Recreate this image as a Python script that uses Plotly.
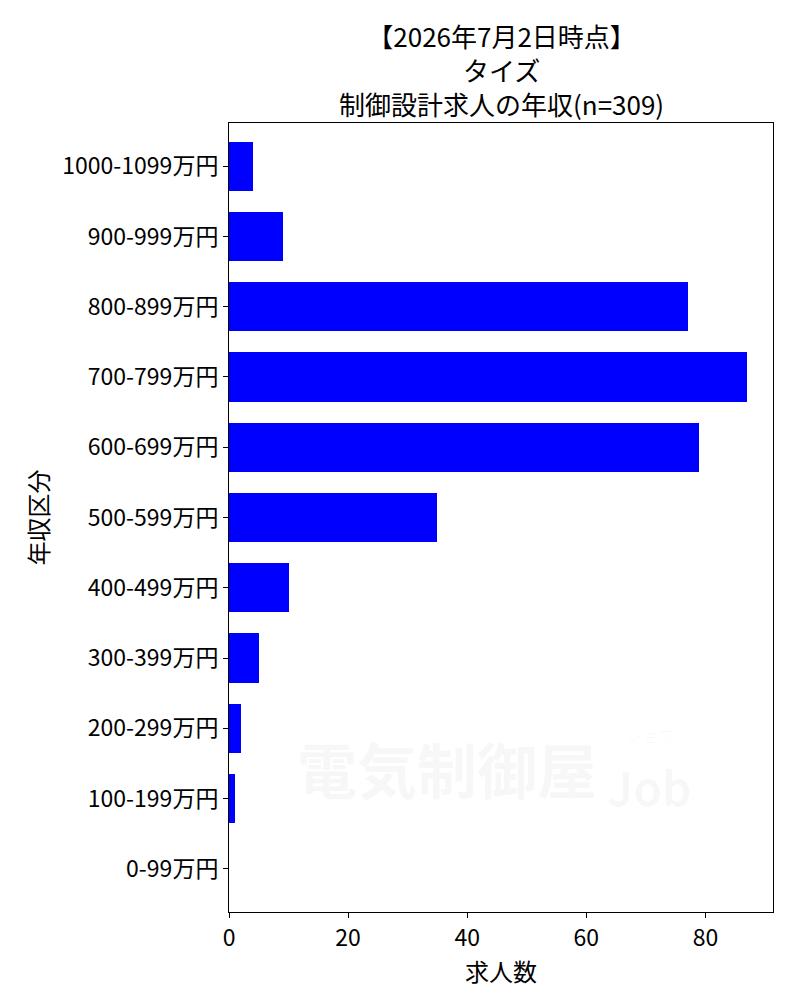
import plotly.graph_objects as go

categories = ["0-99万円", "100-199万円", "200-299万円", "300-399万円", "400-499万円",
              "500-599万円", "600-699万円", "700-799万円", "800-899万円", "900-999万円",
              "1000-1099万円"]
counts = [0, 1, 2, 5, 10, 35, 79, 87, 77, 9, 4]
x_ticks = [0, 20, 40, 60, 80]
title_lines = ["【2026年7月2日時点】", "タイズ", "制御設計求人の年収(n=309)"]

FONT = "Noto Sans CJK JP"

# page has an 8px body margin; plot area in page coords: x 229..773, y 123..912
PX0, PX1, PY0, PY1 = 229, 773, 123, 912
def px(x):
    return (x - PX0) / (PX1 - PX0)
def py(y):
    return (PY1 - y) / (PY1 - PY0)

fig = go.Figure()
fig.add_trace(go.Bar(
    y=list(range(len(categories))), x=counts, orientation="h",
    width=0.7, marker=dict(color="#0000ff", line=dict(width=0)),
))

fig.update_layout(
    width=792, height=992,
    margin=dict(l=PX0 - 8, r=800 - PX1, t=PY0 - 8, b=1000 - PY1),
    paper_bgcolor="white", plot_bgcolor="white",
    font=dict(family=FONT, color="black", size=23),
    showlegend=False,
    bargap=0,
    xaxis=dict(
        range=[0, max(counts) * 1.05],
        tickvals=x_ticks, ticktext=[str(v) for v in x_ticks],
        ticks="outside", ticklen=5, tickcolor="black",
        showline=True, linecolor="black", linewidth=1, mirror=True,
        showgrid=False, zeroline=False,
        tickfont=dict(family=FONT, size=23),
        title=dict(text="求人数", font=dict(family=FONT, size=24), standoff=0),
    ),
    yaxis=dict(
        range=[-0.615, len(categories) - 1 + 0.615],
        tickvals=list(range(len(categories))), ticktext=categories,
        ticks="outside", ticklen=5, tickcolor="black",
        showline=True, linecolor="black", linewidth=1, mirror=True,
        showgrid=False, zeroline=False,
        tickfont=dict(family=FONT, size=23),
        title=dict(text="年収区分", font=dict(family=FONT, size=24), standoff=6),
    ),
)

# title (single multi-line text block)
fig.add_annotation(
    text="<br>".join(title_lines), xref="paper", yref="paper", x=0.5, y=py(69),
    xanchor="center", yanchor="middle", showarrow=False, align="center",
    font=dict(family=FONT, size=26, color="black"),
)

# watermark
wm = "rgba(0,0,0,0.03)"
fig.add_annotation(
    text="<b>電気制御屋</b>", xref="paper", yref="paper",
    x=px(447), y=py(767), xanchor="center", yanchor="middle",
    showarrow=False, font=dict(family=FONT, size=60, color=wm),
)
fig.add_annotation(
    text="<b>Job</b>", xref="paper", yref="paper",
    x=px(649), y=py(786), xanchor="center", yanchor="middle",
    showarrow=False, font=dict(family=FONT, size=46, color=wm),
)
fig.add_annotation(
    text="ジョブ", xref="paper", yref="paper",
    x=px(650), y=py(735), xanchor="center", yanchor="middle",
    showarrow=False, font=dict(family=FONT, size=16, color=wm),
)

fig.write_html("out.html")
